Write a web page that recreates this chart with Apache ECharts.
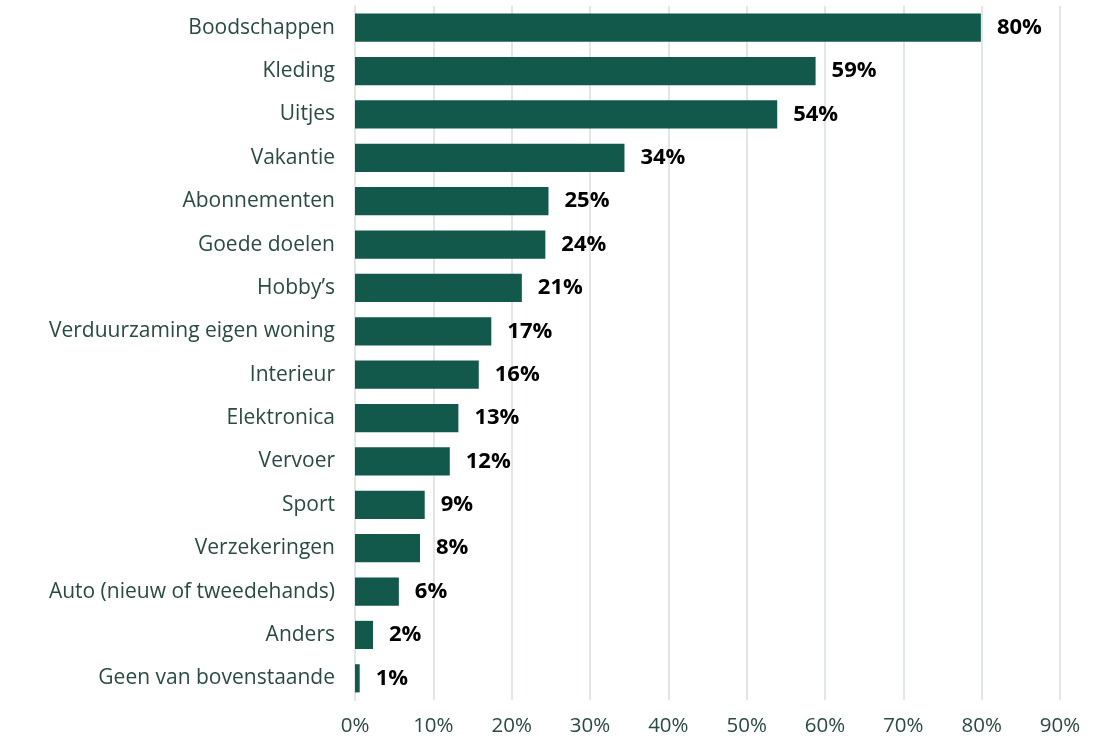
<!DOCTYPE html>
<html><head><meta charset="utf-8">
<script src="https://cdn.jsdelivr.net/npm/echarts@6/dist/echarts.min.js"></script>
<style>html,body{margin:0;padding:0;background:#fff}#c{width:1105px;height:738px}</style>
</head><body><div id="c"></div>
<script>
const categories = ["Boodschappen","Kleding","Uitjes","Vakantie","Abonnementen","Goede doelen","Hobby’s","Verduurzaming eigen woning","Interieur","Elektronica","Vervoer","Sport","Verzekeringen","Auto (nieuw of tweedehands)","Anders","Geen van bovenstaande"];
const values = [79.9,58.8,53.9,34.4,24.7,24.3,21.3,17.4,15.8,13.2,12.1,8.9,8.3,5.6,2.3,0.6];
const labels = ["80%","59%","54%","34%","25%","24%","21%","17%","16%","13%","12%","9%","8%","6%","2%","1%"];
const ticks = [0,10,20,30,40,50,60,70,80,90];

const chart = echarts.init(document.getElementById('c'));
chart.setOption({
  animation:false,
  grid:{left:355,right:45,top:6,bottom:38,containLabel:false},
  xAxis:{type:'value',min:ticks[0],max:ticks[ticks.length-1],interval:10,
    axisLine:{show:false},axisTick:{show:false},
    splitLine:{show:true,lineStyle:{color:'#e3e6e6',width:2}},
    axisLabel:{formatter:v=>v+'%',color:'#2b4a44',fontFamily:'Open Sans',fontSize:20.5,margin:16}},
  yAxis:{type:'category',data:categories,inverse:true,
    axisLine:{show:true,lineStyle:{color:'#e3e6e6',width:2}},axisTick:{show:false},
    axisLabel:{color:'#2b4a44',fontFamily:'Open Sans',fontSize:21,margin:20}},
  series:[{type:'bar',data:values,barWidth:'65%',
    itemStyle:{color:'#12594c'},
    label:{show:true,position:'right',distance:16,
      formatter:p=>labels[p.dataIndex],
      color:'#000',fontFamily:'Open Sans',fontWeight:'bold',fontSize:22}}]
});
</script></body></html>
